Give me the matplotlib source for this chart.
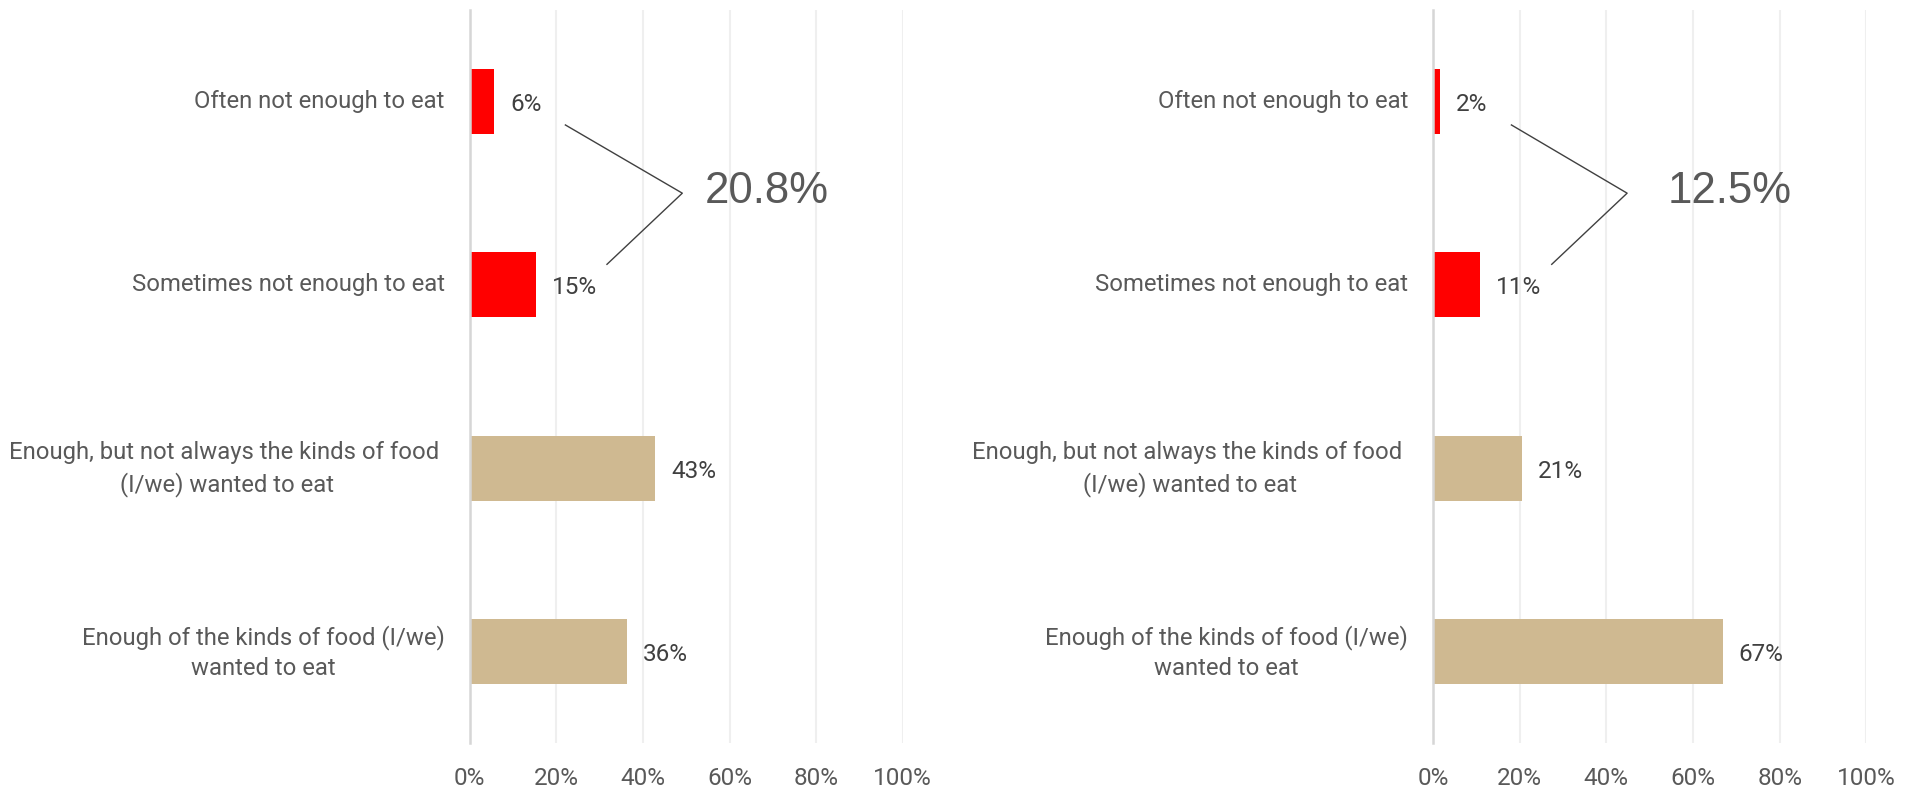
import matplotlib
matplotlib.use("Agg")
import matplotlib.pyplot as plt
from matplotlib.ticker import FuncFormatter

# Survey responses: household food sufficiency, two groups
categories = [
    "Often not enough to eat",
    "Sometimes not enough to eat",
    "Enough, but not always the kinds of food \n(I/we) wanted to eat",
    "Enough of the kinds of food (I/we)\nwanted to eat",
]
group_a = [5.6, 15.2, 42.8, 36.4]
group_b = [1.6, 10.9, 20.6, 66.9]
bar_colors = ["#FF0000", "#FF0000", "#CFB991", "#CFB991"]
x_ticks = [0, 20, 40, 60, 80, 100]

TEXT = "#595959"
VALUE_TEXT = "#404040"
plt.rcParams["font.family"] = ["Roboto", "DejaVu Sans"]

fig = plt.figure(figsize=(19.17, 7.90), dpi=100)
fig.patch.set_facecolor("white")

axes_boxes = [
    [469.7 / 1917, 1 - 743.3 / 790, 433.0 / 1917, 733.5 / 790],
    [1433.0 / 1917, 1 - 743.3 / 790, 433.3 / 1917, 733.5 / 790],
]


def draw_panel(ax, values):
    ypos = list(range(len(categories)))
    ax.barh(ypos, values, height=0.355, color=bar_colors, zorder=3)
    ax.set_xlim(0, 100)
    ax.set_ylim(len(categories) - 0.5, -0.5)

    # grid and axis line
    ax.set_xticks(x_ticks)
    ax.xaxis.set_major_formatter(FuncFormatter(lambda v, p: f"{v:.0f}%"))
    ax.grid(axis="x", color="#EFEFEF", linewidth=1.5, zorder=0)
    for s in ["top", "right", "bottom"]:
        ax.spines[s].set_visible(False)
    ax.spines["left"].set_color("#D6D6D6")
    ax.spines["left"].set_linewidth(1.8)
    ax.spines["left"].set_zorder(4)
    ax.tick_params(axis="x", length=0, pad=17, labelsize=17.5, labelcolor=TEXT)
    ax.set_yticks(ypos)
    ax.set_yticklabels([])
    ax.tick_params(axis="y", length=0)

    # category labels, multi-line ones centred line by line
    for i, name in enumerate(categories):
        dy = -0.5 if "\n" in name else 0
        ax.annotate(name, xy=(0, i), xycoords=("axes fraction", "data"),
                    xytext=(-18, dy), textcoords="offset points",
                    ha="right", va="center", multialignment="center",
                    linespacing=1.38, fontsize=17.2, color=TEXT)

    # value labels
    for i, v in enumerate(values):
        ax.annotate(f"{v:.0f}%", xy=(v, i), xytext=(11.5, -2),
                    textcoords="offset points", va="center", ha="left",
                    fontsize=17.5, color=VALUE_TEXT, zorder=5)

    # bracket joining the two "not enough" rows with their combined share
    top_x = values[0] + 16.5
    bot_x = values[1] + 16.5
    apex_x = max(top_x, bot_x) + 17.4
    ax.plot([top_x, apex_x, bot_x], [0.128, 0.50, 0.888],
            color="#404040", linewidth=1.0, clip_on=False, zorder=5)
    combined = values[0] + values[1]
    ax.text(54.2, 0.555, f"{combined:.1f}%", ha="left", va="baseline",
            fontsize=31.5, color=TEXT, family=["Liberation Sans", "DejaVu Sans"],
            zorder=5)


for box, vals in zip(axes_boxes, [group_a, group_b]):
    ax = fig.add_axes(box)
    ax.set_facecolor("none")
    draw_panel(ax, vals)

fig.savefig("out.png", dpi=100, facecolor="white")
